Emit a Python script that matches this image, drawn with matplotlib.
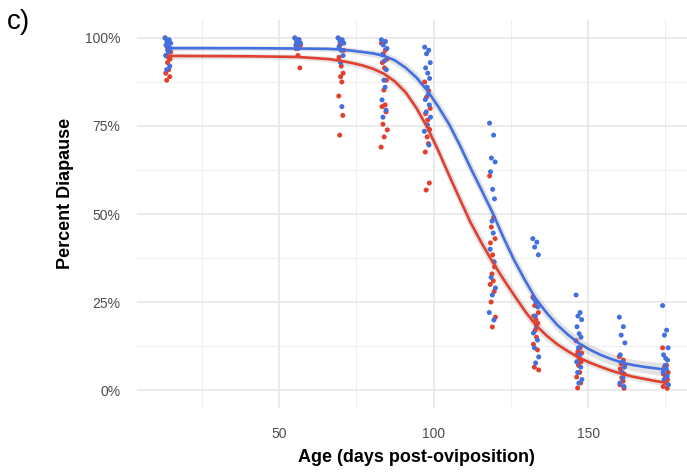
import matplotlib
matplotlib.use('Agg')
import matplotlib.pyplot as plt
import numpy as np
from matplotlib.ticker import FixedLocator, PercentFormatter

plt.rcParams['font.family'] = ['Liberation Sans', 'DejaVu Sans']

# sampling ages (days post-oviposition)
ages = [14, 56, 70, 84, 98, 119, 133, 147, 161, 175]

# percent diapause per replicate, blue group
blue_pts = [
    [100, 99.5, 99, 98.5, 98, 97.5, 97, 96.5, 96, 95, 92, 91],
    [100, 99.5, 99, 98.5, 98, 97],
    [100, 99.5, 99, 98.5, 97.5, 96.5, 95, 93, 80.5],
    [99.5, 99, 98, 97, 95.2, 93.5, 91, 88, 86, 82.4, 79.5, 77.5],
    [97.4, 96.5, 95.5, 93, 91.5, 90, 88.5, 86, 84, 82.5, 81, 79, 77.5, 75.3, 73.5, 69.6],
    [75.8, 72.4, 65.9, 64.8, 62, 57, 54.3, 48, 44.6, 40, 36.4, 32, 29, 27, 22, 19.9],
    [43, 42, 40.6, 38.4, 26, 25, 23.6, 21, 18, 16.2, 14.2, 12, 9.4, 7.7],
    [27, 22, 21, 20, 18, 16, 15, 12, 10, 8, 6.5, 5, 3, 2],
    [20.7, 18, 15.6, 13.4, 10, 8, 6.5, 5, 3.5, 2, 1],
    [24, 17, 15.6, 12, 10, 9, 8.5, 7, 6, 5, 4, 3, 1.5],
]

# percent diapause per replicate, red group
red_pts = [
    [100, 99, 97.5, 96, 95, 94.5, 94, 93, 91, 90, 89, 88],
    [100, 99.5, 99, 98, 97, 95, 91.5],
    [100, 99, 98, 96.5, 94.5, 92, 90, 89, 87.5, 83.5, 78, 72.4],
    [98.5, 96.6, 95.5, 94, 93, 91.5, 88, 85.2, 81, 80.5, 79, 75.5, 73.9, 71.9, 69],
    [87.5, 85, 83.2, 80, 78.5, 76.7, 74, 71.9, 70, 67.6, 58.8, 56.8],
    [60.8, 49, 46.3, 43, 41.8, 38.4, 35, 33, 31, 30, 28, 25, 20.7, 17.9],
    [26.4, 25, 24, 22, 21, 20, 19, 17, 15, 13, 11.4, 6.5, 5.7],
    [14, 12, 11, 10.5, 10, 9, 8, 7, 5, 3.7, 2, 0.6],
    [9.5, 8.5, 7.5, 7, 6, 5, 4.5, 3.5, 2.5, 1.5, 0.5],
    [12, 7, 6.5, 5, 4.5, 3.5, 3, 2.5, 2, 1, 0.5],
]

# fitted curves
curve_x = [14, 40, 56, 66, 70, 73.5, 77, 80.5, 84, 87.5, 91, 94.5, 98, 101.5, 105,
           108.5, 112, 115.5, 119, 122.5, 126, 129.5, 133, 136.5, 140, 143.5, 147,
           150.5, 154, 157.5, 161, 164.5, 168, 171.5, 175]
blue_fit = [97.1, 97.1, 97.0, 96.9, 96.7, 96.4, 96.0, 95.6, 94.9, 93.6, 91.5, 88.7,
            85.0, 80.5, 75.5, 69.5, 63.0, 56.8, 50.5, 43.5, 37.0, 31.3, 26.0, 22.0,
            18.5, 15.7, 13.3, 11.5, 10.0, 8.8, 7.8, 7.1, 6.6, 6.2, 5.8]
red_fit = [94.9, 94.8, 94.6, 94.0, 93.5, 92.9, 92.2, 91.2, 89.8, 87.6, 84.5, 80.0,
           74.5, 68.0, 61.0, 54.2, 47.5, 41.8, 36.5, 31.6, 27.0, 22.5, 18.5, 15.5,
           13.0, 11.0, 9.2, 7.8, 6.6, 5.5, 4.6, 3.8, 3.2, 2.6, 2.1]
blue_ci = [0.8, 0.6, 0.6, 0.7, 0.8, 0.85, 0.9, 1.0, 1.1, 1.25, 1.4, 1.55, 1.7, 1.85,
           2.0, 2.05, 2.1, 2.1, 2.1, 2.05, 2.0, 1.95, 1.9, 1.8, 1.7, 1.65, 1.6, 1.6,
           1.6, 1.6, 1.6, 1.65, 1.7, 1.8, 1.9]
red_ci = [0.9, 0.7, 0.7, 0.8, 0.9, 0.95, 1.0, 1.1, 1.2, 1.35, 1.5, 1.65, 1.8, 1.9,
          2.0, 2.05, 2.1, 2.05, 2.0, 1.9, 1.8, 1.7, 1.6, 1.45, 1.3, 1.2, 1.1, 1.05,
          1.0, 0.95, 0.9, 0.9, 0.9, 0.9, 0.9]

BLUE = '#4270e0'
RED = '#e2402f'

# fixed horizontal spread pattern instead of random jitter
spread = [-0.9, 0.4, -0.3, 0.9, -0.6, 0.1, 0.7, -0.1, 0.3, -0.7, 0.6, -0.4, 1.0, 0.0, -1.0, 0.5]

fig = plt.figure(figsize=(6.87, 4.74), dpi=100)
ax = fig.add_axes([137 / 687, 66 / 474, 550 / 687, 388 / 474])

for pts, col in [(red_pts, RED), (blue_pts, BLUE)]:
    for age, vals in zip(ages, pts):
        xs = [age + spread[i % len(spread)] for i in range(len(vals))]
        ax.scatter(xs, vals, s=13, color=col, edgecolors='none', zorder=3)

for fit, ci, col in [(red_fit, red_ci, RED), (blue_fit, blue_ci, BLUE)]:
    fit = np.array(fit)
    ci = np.array(ci)
    ax.fill_between(curve_x, fit - ci, fit + ci, color='#b0b0b0', alpha=0.35,
                    linewidth=0, zorder=2)
    ax.plot(curve_x, fit, color=col, linewidth=1.9, zorder=4, solid_joinstyle='round')

ax.set_xlim(4, 182)
ax.set_ylim(-5.1, 105.1)

ax.xaxis.set_major_locator(FixedLocator([50, 100, 150]))
ax.xaxis.set_minor_locator(FixedLocator([25, 75, 125, 175]))
ax.yaxis.set_major_locator(FixedLocator([0, 25, 50, 75, 100]))
ax.yaxis.set_minor_locator(FixedLocator([12.5, 37.5, 62.5, 87.5]))
ax.yaxis.set_major_formatter(PercentFormatter(decimals=0))

ax.grid(which='major', color='#e6e6e6', linewidth=1.1, zorder=0)
ax.grid(which='minor', color='#eeeeee', linewidth=0.7, zorder=0)
ax.set_axisbelow(True)
for sp in ax.spines.values():
    sp.set_visible(False)
ax.tick_params(which='both', length=0)
ax.tick_params(axis='x', labelsize=10, labelcolor='#4d4d4d', pad=14)
ax.tick_params(axis='y', labelsize=10, labelcolor='#4d4d4d', pad=12)

fig.text(416 / 687, 1 - 457 / 474, 'Age (days post-oviposition)', fontsize=13,
         fontweight='bold', ha='center', va='center')
fig.text(66 / 687, 1 - 193 / 474, 'Percent Diapause', fontsize=13,
         fontweight='bold', ha='center', va='center', rotation=90)
fig.text(7 / 687, 1 - 22 / 474, 'c)', fontsize=20, ha='left', va='center')

fig.savefig('out.png', dpi=100)
